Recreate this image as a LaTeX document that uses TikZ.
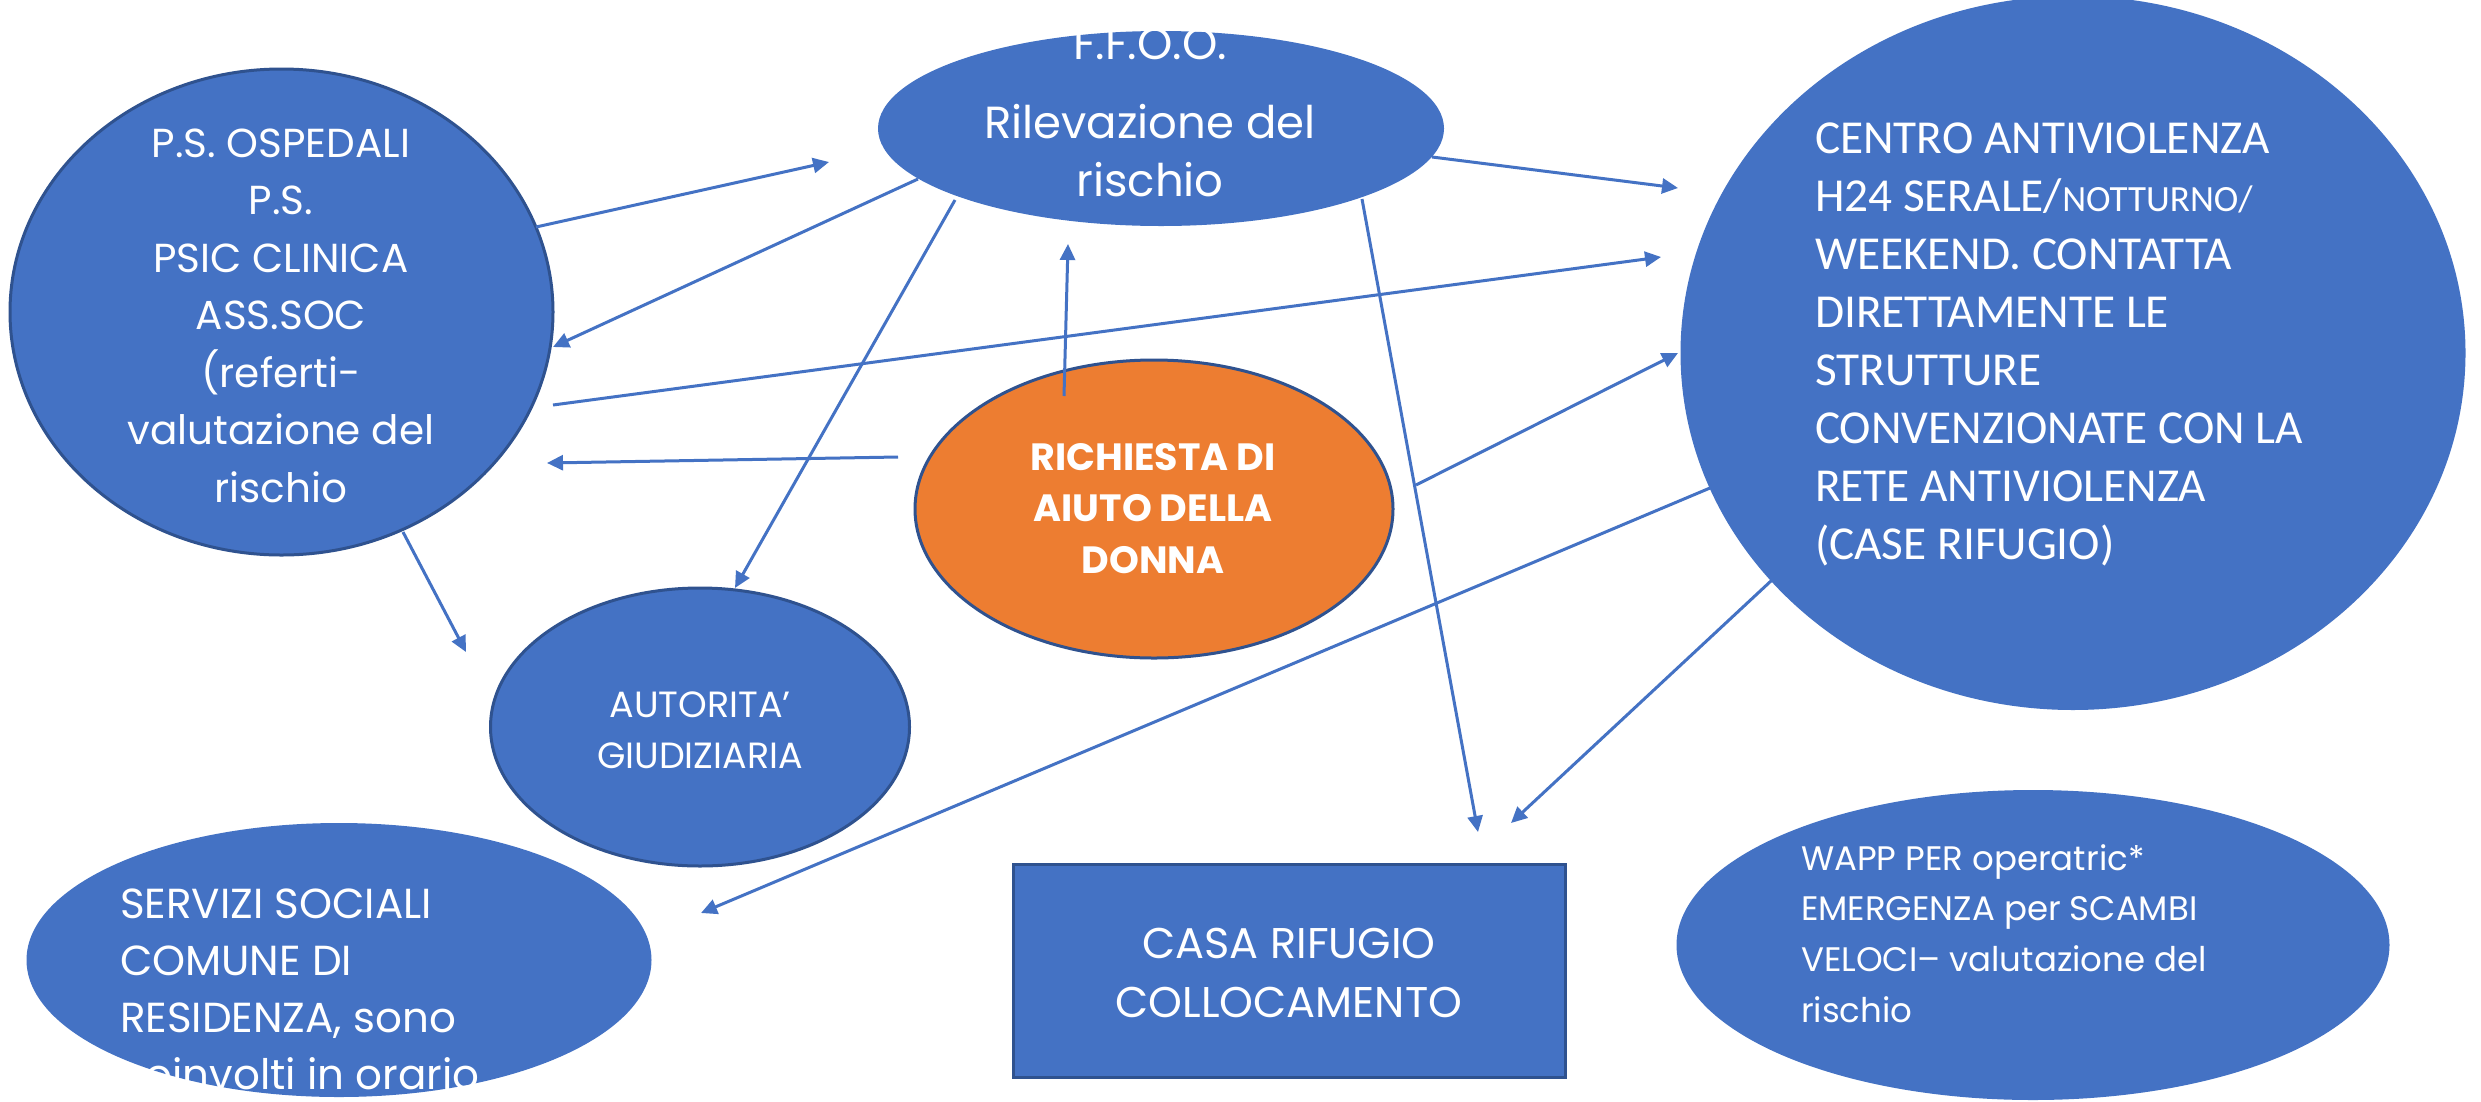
\documentclass[tikz,border=0pt]{standalone}
\usepackage{fontspec}
\setmainfont{Poppins}
\newfontfamily\calfont{Carlito}
\usetikzlibrary{shapes.geometric,arrows.meta}
\definecolor{accblue}{HTML}{4472C4}
\definecolor{edgeblue}{HTML}{2F528F}
\definecolor{accorange}{HTML}{ED7D31}
\begin{document}
\begin{tikzpicture}[x=1pt,y=-1pt,
  blob/.style={ellipse, fill=accblue, inner sep=0pt, outer sep=0pt},
  edged/.style={draw=edgeblue, line width=3pt},
  lbl/.style={text=white, inner sep=0pt, outer sep=0pt},
  conn/.style={draw=accblue, line width=3pt, -{Triangle[length=16pt,width=15pt]}}]
\useasboundingbox (0,0) rectangle (2481,1101);
\fill[white] (0,0) rectangle (2481,1101);

% shapes
\node[blob, edged, minimum width=543pt, minimum height=486pt] (ps) at (281.5,312) {};
\node[blob, minimum width=566pt, minimum height=195pt] (ffoo) at (1161,128.5) {};
\node[blob, minimum width=785pt, minimum height=714pt] (cav) at (2073,353) {};
\node[ellipse, fill=accorange, edged, inner sep=0pt, minimum width=478pt, minimum height=298pt] (rich) at (1154,509) {};
\node[blob, edged, minimum width=419pt, minimum height=278pt] (aut) at (700,727) {};
\node[blob, minimum width=625pt, minimum height=274pt] (serv) at (339,960) {};
\node[rectangle, fill=accblue, edged, inner sep=0pt, minimum width=552pt, minimum height=213pt] (casa) at (1289,970.5) {};
\node[blob, minimum width=713pt, minimum height=310pt] (wapp) at (2033,945) {};

% texts
\node[lbl, anchor=base] (ps-t) at (281,157) {\fontsize{40.5}{57.5}\selectfont\begin{tabular}[t]{@{}c@{}}P.S. OSPEDALI\\P.S.\\PSIC CLINICA\\ASS.SOC\\(referti-\\valutazione del\\rischio\end{tabular}};
\node[lbl, anchor=base] (ffoo-t) at (1150,59) {\fontsize{45}{58}\selectfont\begin{tabular}[t]{@{}c@{}}F.F.O.O.\\[21pt]Rilevazione del\\rischio\end{tabular}};
\node[lbl, anchor=base west] (cav-t) at (1815,153) {\calfont\fontsize{47.3}{58.1}\selectfont\begin{tabular}[t]{@{}l@{}}CENTRO ANTIVIOLENZA\\H24 SERALE/{\fontsize{37}{58}\selectfont NOTTURNO/}\\WEEKEND. CONTATTA\\DIRETTAMENTE LE\\STRUTTURE\\CONVENZIONATE CON LA\\RETE ANTIVIOLENZA\\(CASE RIFUGIO)\end{tabular}};
\node[lbl, anchor=base] (rich-t) at (1153,470) {\bfseries\fontsize{38}{51.5}\selectfont\begin{tabular}[t]{@{}c@{}}RICHIESTA DI\\AIUTO DELLA\\DONNA\end{tabular}};
\node[lbl, anchor=base] (aut-t) at (700,717) {\fontsize{36.5}{51}\selectfont\begin{tabular}[t]{@{}c@{}}AUTORITA’\\GIUDIZIARIA\end{tabular}};
\node[lbl, anchor=base west] (serv-t) at (120,918) {\fontsize{42}{57.3}\selectfont\begin{tabular}[t]{@{}l@{}}SERVIZI SOCIALI\\COMUNE DI\\RESIDENZA, sono\\coinvolti in orario\end{tabular}};
\node[lbl, anchor=base] (casa-t) at (1289,958) {\fontsize{43}{59}\selectfont\begin{tabular}[t]{@{}c@{}}CASA RIFUGIO\\COLLOCAMENTO\end{tabular}};
\node[lbl, anchor=base west] (wapp-t) at (1801,870) {\fontsize{34}{50.7}\selectfont\begin{tabular}[t]{@{}l@{}}WAPP PER operatric*\\EMERGENZA per SCAMBI\\VELOCI– valutazione del\\rischio\end{tabular}};

% connector end points
\coordinate (ps-o1) at (536,227);   \coordinate (ffoo-i1) at (829,162);
\coordinate (ffoo-o1) at (918,179); \coordinate (ps-i1) at (553,347);
\coordinate (ffoo-o2) at (1432,157);\coordinate (cav-i1) at (1678,188);
\coordinate (ps-o2) at (553,405);   \coordinate (cav-i2) at (1661,257);
\coordinate (rich-o1) at (898,457); \coordinate (ps-i2) at (547,463);
\coordinate (rich-o2) at (1064,396);\coordinate (ffoo-i2) at (1068,244);
\coordinate (ffoo-o3) at (955,200); \coordinate (aut-i1) at (735,588);
\coordinate (ps-o3) at (403,532);   \coordinate (aut-i2) at (466,652);
\coordinate (ffoo-o4) at (1362,199);\coordinate (casa-i1) at (1478,832);
\coordinate (rich-o3) at (1416,485);\coordinate (cav-i3) at (1678,353);
\coordinate (cav-o1) at (1710,488); \coordinate (serv-i1) at (701,913);
\coordinate (cav-o2) at (1772,580); \coordinate (casa-i2) at (1511,823);

% connectors
\draw[conn] (ps-o1) -- (ffoo-i1);
\draw[conn] (ffoo-o1) -- (ps-i1);
\draw[conn] (ffoo-o2) -- (cav-i1);
\draw[conn] (ps-o2) -- (cav-i2);
\draw[conn] (rich-o1) -- (ps-i2);
\draw[conn] (rich-o2) -- (ffoo-i2);
\draw[conn] (ffoo-o3) -- (aut-i1);
\draw[conn] (ps-o3) -- (aut-i2);
\draw[conn] (ffoo-o4) -- (casa-i1);
\draw[conn] (rich-o3) -- (cav-i3);
\draw[conn] (cav-o1) -- (serv-i1);
\draw[conn] (cav-o2) -- (casa-i2);
\end{tikzpicture}
\end{document}
